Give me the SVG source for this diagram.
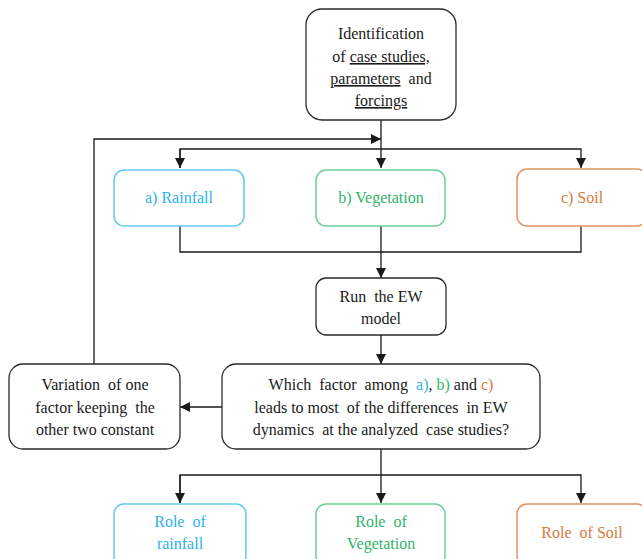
<svg xmlns="http://www.w3.org/2000/svg" width="642" height="559" viewBox="0 0 642 559" font-family="Liberation Serif, Times New Roman, Tinos, DejaVu Serif, serif">
<defs>
<marker id="ah" viewBox="0 0 10 10" refX="10" refY="5" markerWidth="10" markerHeight="10" markerUnits="userSpaceOnUse" orient="auto">
<path d="M0,0 L10,5 L0,10 Z" fill="#1a1a1a"/>
</marker>
</defs>
<style>
.box{fill:#fff;stroke:#2a2a2a;stroke-width:1.3}
.blue{fill:#fff;stroke:#62c9f4;stroke-width:1.5}
.green{fill:#fff;stroke:#6dcf96;stroke-width:1.5}
.orange{fill:#fff;stroke:#e0925f;stroke-width:1.5}
text{font-size:16px;text-anchor:middle;fill:#1a1a1a;white-space:pre}
.tb{fill:#2bb3ec}
.tg{fill:#2fb56a}
.to{fill:#d67a40}
.c{fill:none;stroke:#1a1a1a;stroke-width:1.3}
.u{text-decoration:underline}
</style>
<g id="connectors">
<path class="c" d="M381,120 V168" marker-end="url(#ah)"/>
<path class="c" d="M180,168 V149 H581 V168" marker-end="url(#ah)"/>
<path class="c" d="M180,149 V168" marker-end="url(#ah)"/>
<path class="c" d="M94,364 V139 H381" marker-end="url(#ah)"/>
<path class="c" d="M180,226 V252 H581 V226"/>
<path class="c" d="M381,226 V278" marker-end="url(#ah)"/>
<path class="c" d="M381,335 V364" marker-end="url(#ah)"/>
<path class="c" d="M222,407 H180" marker-end="url(#ah)"/>
<path class="c" d="M381,449 V503" marker-end="url(#ah)"/>
<path class="c" d="M180,503 V475 H581 V503" marker-end="url(#ah)"/>
<path class="c" d="M180,475 V503" marker-end="url(#ah)"/>
</g>
<g id="identification">
<rect class="box" x="306" y="9" width="150" height="111" rx="16"/>
<text x="381" y="39" font-family="Liberation Serif, serif">Identification</text>
<text x="381" y="62" font-family="Liberation Serif, serif">of <tspan class="u">case studies,</tspan></text>
<text x="381" y="84" font-family="Liberation Serif, serif"><tspan class="u">parameters</tspan>  and</text>
<text x="381" y="106" font-family="Liberation Serif, serif"><tspan class="u">forcings</tspan></text>
</g>
<g id="rainfall">
<rect class="blue" x="114" y="170" width="130" height="56" rx="10"/>
<text class="tb" x="179" y="203">a) Rainfall</text>
</g>
<g id="vegetation">
<rect class="green" x="316" y="170" width="129" height="56" rx="10"/>
<text class="tg" x="381" y="203">b) Vegetation</text>
</g>
<g id="soil">
<rect class="orange" x="517" y="169" width="130" height="57" rx="10"/>
<text class="to" x="582" y="203">c) Soil</text>
</g>
<g id="run">
<rect class="box" x="316" y="278" width="130" height="57" rx="10"/>
<text x="381" y="302">Run  the EW</text>
<text x="381" y="324">model</text>
</g>
<g id="question">
<rect class="box" x="222" y="364" width="318" height="85" rx="14"/>
<text x="381" y="390">Which  factor  among  <tspan class="tb">a)</tspan>, <tspan class="tg">b)</tspan> and <tspan class="to">c)</tspan></text>
<text x="381" y="413">leads to most  of the differences  in EW</text>
<text x="381" y="435">dynamics  at the analyzed  case studies?</text>
</g>
<g id="variation">
<rect class="box" x="9" y="364" width="171" height="85" rx="14"/>
<text x="95" y="390">Variation  of one</text>
<text x="95" y="413">factor keeping  the</text>
<text x="95" y="435">other two constant</text>
</g>
<g id="role-rainfall">
<rect class="blue" x="114" y="504" width="132" height="62" rx="10"/>
<text class="tb" x="180" y="527">Role  of</text>
<text class="tb" x="180" y="549">rainfall</text>
</g>
<g id="role-vegetation">
<rect class="green" x="316" y="504" width="129" height="62" rx="10"/>
<text class="tg" x="381" y="527">Role  of</text>
<text class="tg" x="381" y="549">Vegetation</text>
</g>
<g id="role-soil">
<rect class="orange" x="517" y="504" width="130" height="62" rx="10"/>
<text class="to" x="582" y="538">Role  of Soil</text>
</g>
</svg>
